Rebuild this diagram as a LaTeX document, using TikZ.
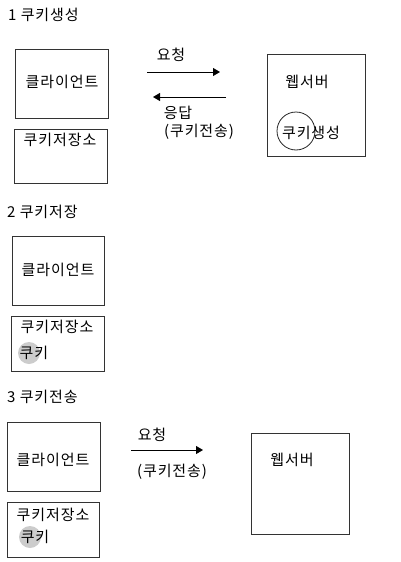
\documentclass[tikz,border=0pt]{standalone}
\usepackage{fontspec}
\setmainfont[LetterSpace=6]{Noto Sans CJK KR}
\usetikzlibrary{arrows.meta}
\begin{document}
\begin{tikzpicture}[x=1pt,y=-1pt,
  box/.style={draw=black!80, line width=0.9pt, inner sep=0pt},
  lbl/.style={font=\fontsize{15}{17}\selectfont, inner sep=0pt, text=black},
  conn/.style={line width=0.9pt, -{Triangle[length=7pt,width=8pt]}},
  cookie/.style={circle, fill=black!20, inner sep=0pt, minimum size=22pt},
]
\useasboundingbox (0,0) rectangle (400,562);
% ---------- 1
\node[lbl, anchor=west] (t1) at (8,15) {1 쿠키생성};
\node[box, minimum width=93pt, minimum height=69pt] (c1) at (61.5,83.5) {};
\node[lbl] (c1t) at (62,82) {클라이언트};
\node[box, minimum width=93pt, minimum height=54pt] (s1) at (60.5,156) {};
\node[lbl] (s1t) at (60,140) {쿠키저장소};
\node[box, minimum width=98pt, minimum height=102pt] (w1) at (316,105) {};
\node[lbl] (w1t) at (307,82) {웹서버};
\node[circle, draw=black!85, line width=0.8pt, minimum size=38pt, inner sep=0pt] (k1) at (296,131) {};
\node[lbl] (k1t) at (311,133) {쿠키생성};
\coordinate (a1s) at (147,72);
\coordinate (a1e) at (220,72);
\draw[conn] (a1s) -- (a1e);
\node[lbl] (a1l) at (171,55) {요청};
\coordinate (a2s) at (226,97);
\coordinate (a2e) at (153,97);
\draw[conn] (a2s) -- (a2e);
\node[lbl] (a2l) at (178,113) {응답};
\node[lbl] (a2m) at (199,132) {(쿠키전송)};
% ---------- 2
\node[lbl, anchor=west] (t2) at (7,212) {2 쿠키저장};
\node[box, minimum width=92pt, minimum height=69pt] (c2) at (58,270.5) {};
\node[lbl] (c2t) at (58,270) {클라이언트};
\node[box, minimum width=93pt, minimum height=55pt] (s2) at (57.5,343.5) {};
\node[lbl] (s2t) at (57,327) {쿠키저장소};
\node[cookie] (k2) at (29,353) {};
\node[lbl] (k2t) at (34,353) {쿠키};
% ---------- 3
\node[lbl, anchor=west] (t3) at (7,397) {3 쿠키전송};
\node[box, minimum width=93pt, minimum height=69pt] (c3) at (53.5,456.5) {};
\node[lbl] (c3t) at (53,460) {클라이언트};
\node[box, minimum width=92pt, minimum height=55pt] (s3) at (53,529.5) {};
\node[lbl] (s3t) at (53,515) {쿠키저장소};
\node[cookie] (k3) at (30,537) {};
\node[lbl] (k3t) at (35,537) {쿠키};
\coordinate (a3s) at (131,450);
\coordinate (a3e) at (203,450);
\draw[conn] (a3s) -- (a3e);
\node[lbl] (a3l) at (152,435) {요청};
\node[lbl] (a3m) at (172,472) {(쿠키전송)};
\node[box, minimum width=98pt, minimum height=101pt] (w3) at (300,483.5) {};
\node[lbl] (w3t) at (292,460) {웹서버};
\end{tikzpicture}
\end{document}
